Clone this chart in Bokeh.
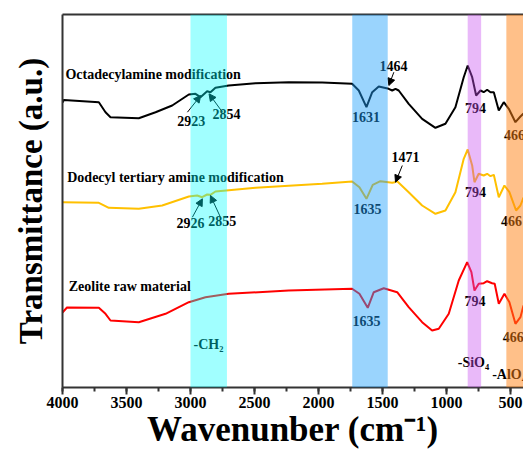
from bokeh.plotting import figure
from bokeh.models import (Range1d, BoxAnnotation, Arrow, NormalHead,
                          SingleIntervalTicker, LinearAxis, FixedTicker, ColumnDataSource)
from bokeh.core.properties import value
from bokeh.embed import file_html
from bokeh.resources import INLINE

FONT = "Liberation Serif"

# ---- data (wavenumber cm-1, transmittance a.u.) ----
wn_octa = [4000, 3990, 3716, 3664, 3625, 3404, 3273, 3143, 3013, 2961, 2922, 2870, 2844, 2805,
           2701, 2492, 2232, 1971, 1737, 1685, 1625, 1580, 1529, 1451, 1424, 1398, 1373, 1295,
           1190, 1086, 1008, 930, 865, 834, 799, 768, 734, 709, 682, 656, 630, 591, 552, 513,
           461, 422, 398]
t_octa = [285, 287.5, 285.3, 275.3, 270.3, 269.3, 275.3, 282, 293, 293.7, 290.3, 296.3, 295.3, 299.7,
          302, 304.3, 305.3, 305, 303.7, 297, 280.3, 295.3, 301, 298.7, 297, 298.7, 297, 283.7,
          268.7, 259.7, 263.7, 280.3, 310.3, 322, 310.3, 292, 297, 295.3, 297.7, 295.3, 295.3, 277, 285.3, 278.7,
          265.3, 271, 274]

wn_dode = [4000, 3716, 3638, 3404, 3221, 3013, 2948, 2909, 2870, 2844, 2805, 2492, 1971, 1737,
           1680, 1625, 1576, 1516, 1424, 1404, 1385, 1295, 1190, 1086, 1008, 930, 865, 834, 799,
           781, 748, 709, 682, 656, 630, 591, 547, 508, 456, 422, 398]
t_dode = [185.3, 184.7, 179.7, 178.7, 182, 191, 192, 190.3, 193, 192.7, 196, 199.7, 203.7, 206,
          200.3, 188.7, 202.7, 206.3, 204.7, 205.3, 206.3, 195.3, 182, 173.7, 177, 195.3, 228.7, 238, 222,
          205.3, 213.7, 212, 213.7, 211.3, 212.7, 190.3, 202, 195.3, 177, 182, 190]

wn_zeo = [4000, 3965, 3716, 3664, 3625, 3404, 3195, 3013, 2883, 2701, 2232, 1737, 1680, 1615,
          1568, 1490, 1385, 1295, 1190, 1112, 1060, 982, 904, 838, 805, 781, 748, 709, 682, 643,
          623, 591, 547, 508, 461, 422, 398]
t_zeo = [75, 80, 79.7, 73.7, 67, 65.3, 73.7, 85.3, 90.3, 93.7, 97, 98.7, 93.7, 79.7,
         95.3, 99.3, 95.3, 80.3, 65.3, 57, 58.7, 73.7, 107, 125.3, 115.3, 97, 103.7, 104.3, 106.3, 104.3,
         103.7, 83.7, 93.7, 85.3, 63.7, 70.3, 82]

# band ranges (cm-1)
bands = [(3000, 2715, "#00ffff", 0.37),
         (1736, 1459, "#1ea0fa", 0.45),
         (834, 729, "#c850f0", 0.40),
         (532, 380, "#ff8214", 0.50)]

# annotation texts: (text, x, y, align)
ann = [("Octadecylamine modification", 3977, 313, "left"),
       ("2923", 2994, 267, "center"), ("2854", 2719, 273.7, "center"),
       ("1464", 1414, 322, "center"), ("1631", 1628, 271, "center"),
       ("794", 773, 279.7, "center"), ("466", 469, 253, "center"),
       ("Dodecyl tertiary amine modification", 3963, 210.3, "left"),
       ("2926", 3000, 164.7, "center"), ("2855", 2752, 167, "center"),
       ("1471", 1320, 230.3, "center"), ("1635", 1617, 178.7, "center"),
       ("794", 773, 195.3, "center"), ("466", 492, 167, "center"),
       ("Zeolite raw material", 3951, 101, "left"),
       ("1635", 1625, 67, "center"), ("794", 777, 86.3, "center"), ("466", 479, 50.3, "center"),
       ("-CH\u2082", 2859, 43, "center"), ("-SiO\u2084", 789, 25.3, "center"),
       ("-AlO\u2084", 643, 13, "left")]

arrows = [(3024, 275.3, 2920, 292), (2750, 275.3, 2855, 293.7), (1411, 315.3, 1450, 302),
          (2985, 170.3, 2907, 188.7), (2766, 170.3, 2844, 192), (1345, 222, 1398, 205.3)]

p = figure(width=523, height=451, output_backend="svg", toolbar_location=None,
           x_range=Range1d(4000, 398), y_range=Range1d(0, 373),
           min_border_left=62, min_border_right=0, min_border_top=14, min_border_bottom=64)
p.outline_line_color = None
p.xgrid.visible = False
p.ygrid.visible = False
p.background_fill_color = "white"

xa = p.xaxis[0]
xa.ticker = SingleIntervalTicker(interval=500, num_minor_ticks=2)
xa.axis_line_width = 2
xa.axis_line_color = "#333333"
xa.major_tick_line_width = 2
xa.major_tick_line_color = "#333333"
xa.minor_tick_line_width = 2
xa.minor_tick_line_color = "#333333"
xa.major_tick_in = 0
xa.major_tick_out = 7
xa.minor_tick_in = 0
xa.minor_tick_out = 4
xa.major_label_standoff = 2
xa.major_label_text_font = FONT
xa.major_label_text_font_style = "bold"
xa.major_label_text_font_size = "16px"
xa.major_label_text_color = "black"
xa.axis_label = "Wavenunber (cm\u207b\u00b9)"
xa.axis_label_text_font = FONT
xa.axis_label_text_font_style = "bold"
xa.axis_label_text_font_size = "35px"
xa.axis_label_text_color = "black"
xa.axis_label_standoff = -1

ya = p.yaxis[0]
ya.ticker = FixedTicker(ticks=[])
ya.axis_line_width = 2
ya.axis_line_color = "#333333"
ya.major_tick_line_color = None
ya.minor_tick_line_color = None
ya.major_tick_out = 0
ya.major_label_standoff = 0
ya.axis_label = "Transmittance (a.u.)"
ya.axis_label_text_font = FONT
ya.axis_label_text_font_style = "bold"
ya.axis_label_text_font_size = "33px"
ya.axis_label_text_color = "black"
ya.axis_label_standoff = 14

top = LinearAxis(ticker=FixedTicker(ticks=[]), axis_line_width=2, axis_line_color="#333333",
                 major_tick_line_color=None, minor_tick_line_color=None,
                 major_tick_out=0, major_label_standoff=0)
p.add_layout(top, "above")

p.line(wn_octa, t_octa, line_color="black", line_width=2)
p.line(wn_dode, t_dode, line_color="#ffc000", line_width=2)
p.line(wn_zeo, t_zeo, line_color="#ff0000", line_width=2)

for align in ("left", "center"):
    sub = [a for a in ann if a[3] == align]
    src = ColumnDataSource(dict(t=[a[0] for a in sub], x=[a[1] for a in sub], y=[a[2] for a in sub]))
    p.text(x="x", y="y", text="t", source=src, text_font=value(FONT), text_font_style="bold",
           text_font_size=value("14px"), text_align=align, text_baseline="middle", text_color="black")

for (x0, y0, x1, y1) in arrows:
    p.add_layout(Arrow(x_start=x0, y_start=y0, x_end=x1, y_end=y1, line_width=1, line_color="black",
                       end=NormalHead(size=7, fill_color="black", line_color="black")))

for (l, r, c, a) in bands:
    p.add_layout(BoxAnnotation(left=l, right=r, fill_color=c, fill_alpha=a, line_color=None))

open("out.html", "w").write(file_html(p, INLINE))
